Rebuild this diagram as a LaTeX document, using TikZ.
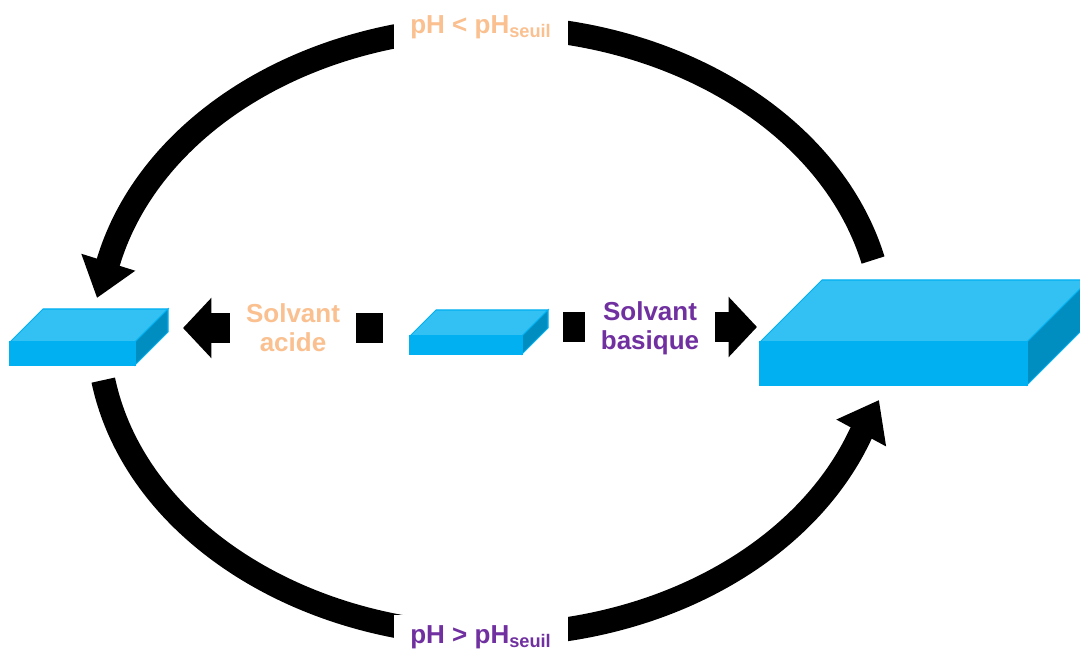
\documentclass[tikz,border=0pt]{standalone}
\usepackage{fontspec}
\setmainfont{Liberation Sans}
\usepackage{xcolor}
\usepackage{tikz}
\usetikzlibrary{arrows.meta,calc}

\definecolor{peach}{HTML}{FAC090}
\definecolor{plum}{HTML}{7030A0}
\definecolor{slabfront}{HTML}{00B0F0}
\definecolor{slabtop}{HTML}{33C0F3}
\definecolor{slabside}{HTML}{008DC0}

\begin{document}
\begin{tikzpicture}[x=0.02cm,y=-0.02cm,
  lbl/.style={fill=white,font=\fontsize{14.8}{16.5}\selectfont\bfseries,align=center,inner xsep=0.32cm,inner ysep=0.2cm},
  cyclearrow/.style={line width=0.48cm,-{Triangle[length=0.75cm,width=1.08cm]}},
  blockarrow/.style={line width=0.6cm,-{Triangle[length=0.57cm,width=1.18cm]}},
  slab/.style={draw=slabfront,line width=0.6pt}]
\clip (0,0) rectangle (1080,655);

% Big cycle (ellipse centre)
\coordinate (ring) at (491,331);
\coordinate (topS) at ($(ring)+(13.5:7.86cm and 6.08cm)$);
\coordinate (botS) at ($(ring)+(189.3:7.86cm and 6.08cm)$);
\coordinate (topH) at (97,298);
\coordinate (botH) at (879,400);
\draw[cyclearrow] (topS) arc[start angle=13.5,end angle=166.9,x radius=7.86cm,y radius=6.08cm] -- (topH);
\draw[cyclearrow] (botS) arc[start angle=189.3,end angle=340.2,x radius=7.86cm,y radius=6.08cm] -- (botH);
\node[lbl,text=peach] (lowtxt) at (481,27) {pH < pH\textsubscript{seuil}};
\node[lbl,text=plum] (hightxt) at (481,637) {pH > pH\textsubscript{seuil}};

% Block arrows from the middle
\coordinate (acidT) at (383,328);
\coordinate (acidH) at (183,328);
\coordinate (baseT) at (563,327);
\coordinate (baseH) at (757,327);
\draw[blockarrow] (acidT) -- (acidH);
\draw[blockarrow] (baseT) -- (baseH);
\node[lbl,text=peach] (acidtxt) at (293,328) {Solvant\\acide};
\node[lbl,text=plum] (basetxt) at (650,328) {Solvant\\basique};

% Slabs: top, side, front
\foreach \nm/\x/\y/\w/\h/\d in {acid/10/342/125/23/33, mid/410/336/112/18/26, base/760/342/267/43/62}{
  \filldraw[slab,fill=slabtop] (\x,\y) -- ++(\d,-\d) -- ++(\w,0) -- ++(-\d,\d) -- cycle;
  \filldraw[slab,fill=slabside] (\x+\w,\y) -- ++(\d,-\d) -- ++(0,\h) -- ++(-\d,\d) -- cycle;
  \filldraw[slab,fill=slabfront] (\x,\y) rectangle ++(\w,\h);
}
\end{tikzpicture}
\end{document}
